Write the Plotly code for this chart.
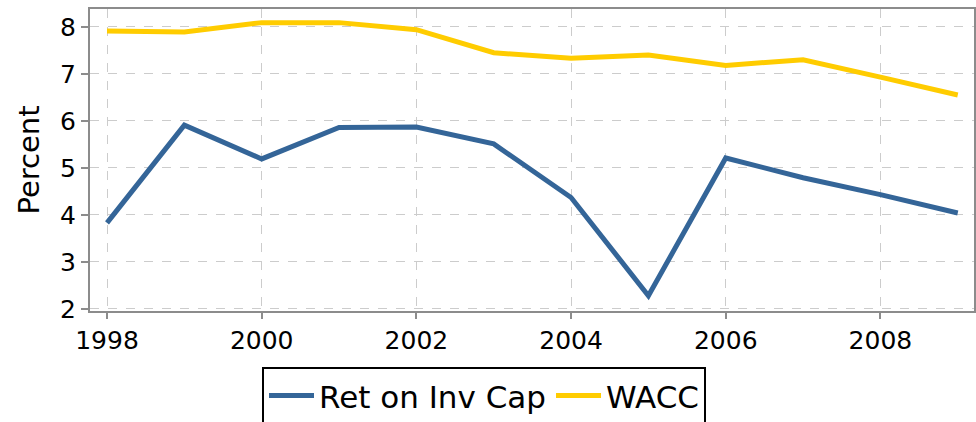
import plotly.graph_objects as go

years = list(range(1998, 2010))
ret_on_inv_cap = [3.83, 5.91, 5.19, 5.86, 5.87, 5.51, 4.37, 2.28, 5.21, 4.79, 4.43, 4.04]
wacc = [7.91, 7.89, 8.09, 8.09, 7.94, 7.45, 7.33, 7.40, 7.18, 7.30, 6.93, 6.55]
x_ticks = [1998, 2000, 2002, 2004, 2006, 2008]
y_ticks = [2, 3, 4, 5, 6, 7, 8]

fig = go.Figure()
fig.add_trace(go.Scatter(x=years, y=ret_on_inv_cap, mode="lines", name="Ret on Inv Cap",
                         line=dict(color="#346598", width=5)))
fig.add_trace(go.Scatter(x=years, y=wacc, mode="lines", name="WACC",
                         line=dict(color="#FFCC00", width=5)))

axis_common = dict(
    showline=True, linecolor="#8c8c8c", linewidth=2, mirror=True,
    ticks="outside", tickcolor="#8c8c8c", tickwidth=2,
    showgrid=True, gridcolor="#cccccc", griddash="dash", gridwidth=1,
    zeroline=False, tickfont=dict(size=25, color="black"),
)

fig.update_xaxes(range=[1997.78, 2009.21], tickvals=x_ticks, ticklen=6, **axis_common)
fig.update_yaxes(range=[1.955, 8.38], tickvals=y_ticks, ticklen=7,
                 title=dict(text="Percent", font=dict(size=29, color="black"), standoff=12),
                 **axis_common)

fig.update_layout(
    width=976, height=422,
    margin=dict(l=90, r=2, t=9, b=111, autoexpand=False),
    paper_bgcolor="white", plot_bgcolor="white",
    font=dict(family="DejaVu Sans", color="black"),
    showlegend=True,
    legend=dict(orientation="h", x=(262 - 90) / 884, xanchor="left", y=-0.185, yanchor="top",
                bordercolor="black", borderwidth=2, font=dict(size=31, color="black"),
                bgcolor="white", itemwidth=45),
)

fig.write_html("out.html", config={"displayModeBar": False},
               post_script="document.body.style.margin='0';document.body.style.overflow='hidden';")
